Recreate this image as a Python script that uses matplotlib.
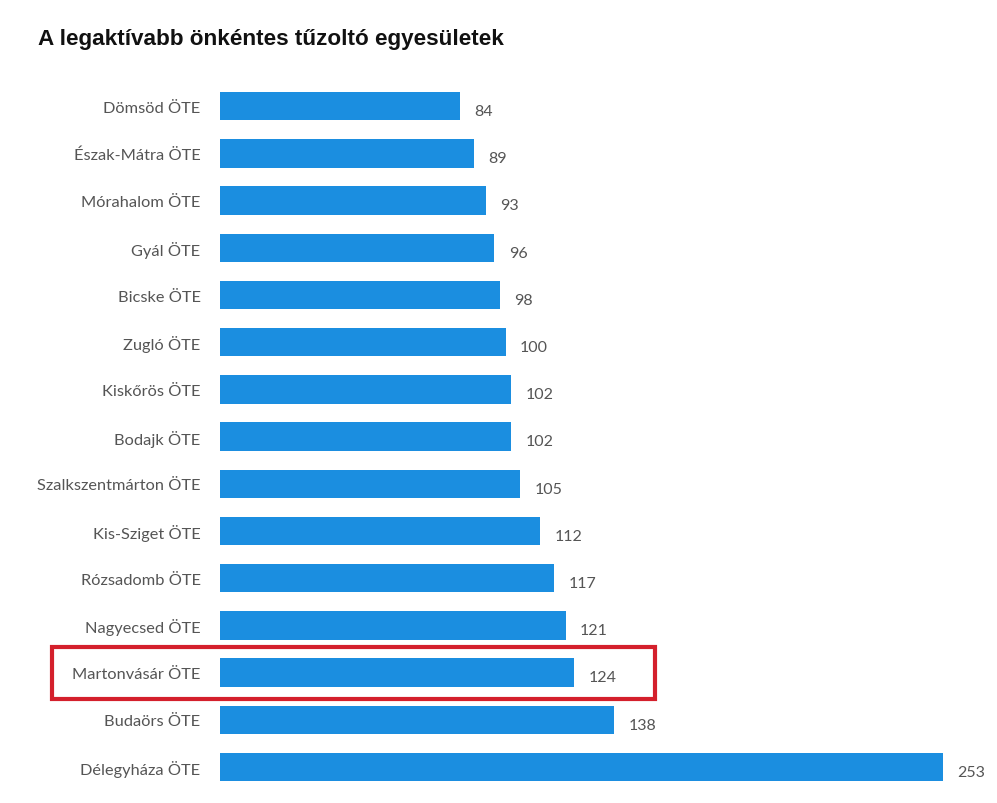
import matplotlib.pyplot as plt
from matplotlib.patches import Rectangle

names = ['Dömsöd ÖTE', 'Észak-Mátra ÖTE', 'Mórahalom ÖTE', 'Gyál ÖTE', 'Bicske ÖTE',
         'Zugló ÖTE', 'Kiskőrös ÖTE', 'Bodajk ÖTE', 'Szalkszentmárton ÖTE', 'Kis-Sziget ÖTE',
         'Rózsadomb ÖTE', 'Nagyecsed ÖTE', 'Martonvásár ÖTE', 'Budaörs ÖTE', 'Délegyháza ÖTE']
values = [84, 89, 93, 96, 98, 100, 102, 102, 105, 112, 117, 121, 124, 138, 253]
highlight = 'Martonvásár ÖTE'

plt.rcParams['font.family'] = ['Lato', 'DejaVu Sans']

fig = plt.figure(figsize=(9.97, 8.04), dpi=100)
ax = fig.add_axes([220 / 997, 12.4 / 804, 771.6 / 997, 708 / 804])

ypos = range(len(names))
ax.barh(ypos, values, height=0.6, color='#1b8ee0')
for y, v in zip(ypos, values):
    ax.text(v + 5, y + 0.1, str(v), va='center', ha='left', fontsize=11.5, color='#555555')

ax.set_xlim(0, 270)
ax.set_ylim(len(names) - 0.5, -0.5)
ax.set_yticks(list(ypos))
ax.set_yticklabels(names, fontsize=11.8, color='#555555')
ax.tick_params(axis='y', length=0, pad=14)
ax.set_xticks([])
for s in ax.spines.values():
    s.set_visible(False)

# red frame around the highlighted row
i = names.index(highlight)
ax.add_patch(Rectangle((-58.8, i - 0.55), 211, 1.1, fill=False, edgecolor='#d4202c',
                       linewidth=3, transform=ax.transData, clip_on=False))

fig.text(38 / 997, 1 - 40 / 804, 'A legaktívabb önkéntes tűzoltó egyesületek',
         fontsize=16.2, fontweight='bold', family='Liberation Sans', va='center', ha='left',
         color='#111111')

plt.savefig('out.png', dpi=100)
